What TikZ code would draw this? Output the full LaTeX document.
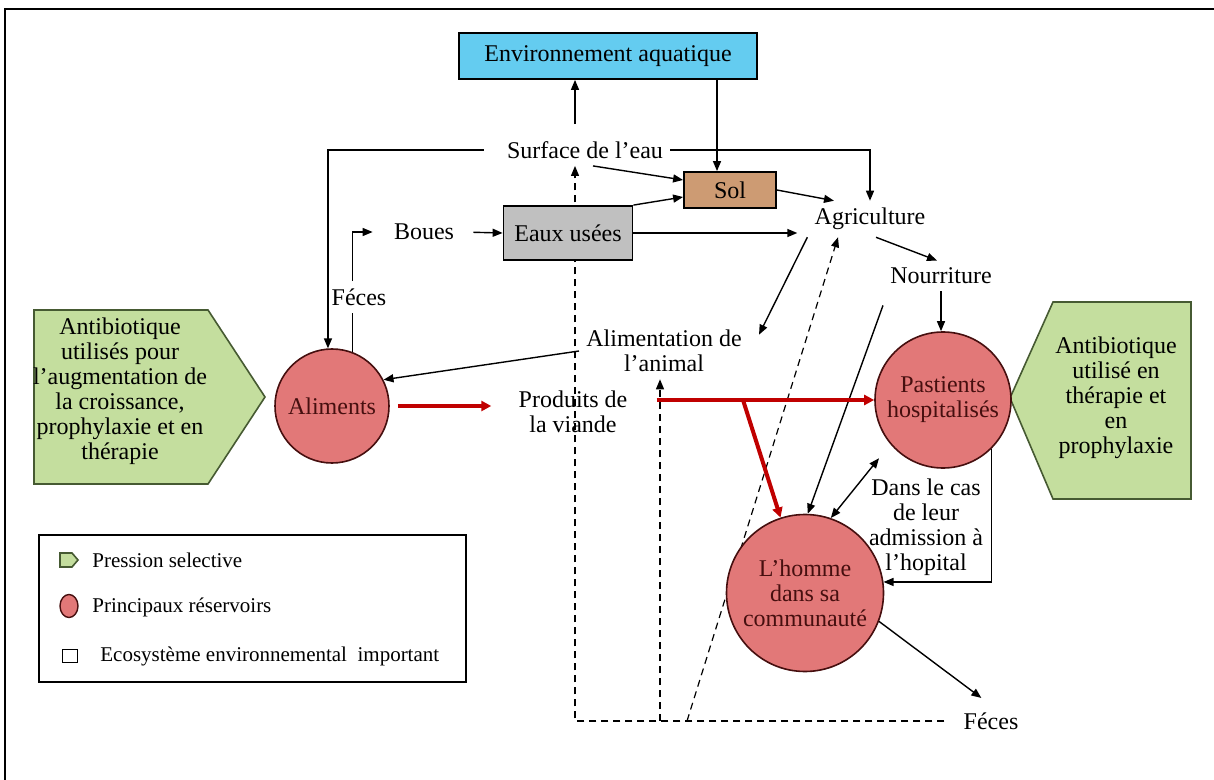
\documentclass[tikz,border=0pt]{standalone}
\usepackage{fontspec}
\setmainfont{Liberation Serif}
\usepackage{tikz}
\usetikzlibrary{arrows.meta,calc,backgrounds,shapes.geometric}
\definecolor{bleuEau}{RGB}{100,204,240}
\definecolor{brunSol}{RGB}{205,155,115}
\definecolor{grisUse}{RGB}{192,192,192}
\definecolor{rougeRes}{RGB}{226,120,120}
\definecolor{texteRes}{RGB}{70,15,15}
\definecolor{vertPres}{RGB}{196,222,158}
\definecolor{vertBord}{RGB}{70,90,50}
\definecolor{rougeFl}{RGB}{192,0,0}

\begin{document}
\begin{tikzpicture}[x=0.5pt,y=-0.5pt,line width=0.7pt,
    font=\fontsize{12}{12.5}\selectfont,
    >={Triangle[length=5pt,width=4pt]},
    boite/.style={draw,rectangle,line width=0.9pt},
    reserv/.style={draw=texteRes,circle,fill=rougeRes,text=texteRes,align=center,inner sep=1pt,line width=0.8pt},
    pression/.style={fill=vertPres,draw=vertBord,line width=0.8pt},
    pointille/.style={dash pattern=on 3.5pt off 2.5pt,line width=0.6pt},
    fleche/.style={draw=rougeFl,line width=2pt,-{Triangle[length=5pt,width=5pt]}},
    legende/.style={anchor=west,font=\fontsize{10.5}{12}\selectfont}]
      \useasboundingbox (0,0) rectangle (1214,780);
      \draw[line width=1pt] (5,780) -- (5,9) -- (1214,9);

      \filldraw[pression] (34,310) -- (208,310) -- (265,397) -- (208,484) -- (34,484) -- cycle;
      \node[align=center] (AbG) at (120,391) {Antibiotique\\utilisés pour\\l’augmentation de\\la croissance,\\prophylaxie et en\\thérapie};
      \filldraw[pression] (1010,398) -- (1053,302) -- (1191,302) -- (1191,499) -- (1053,499) -- cycle;
      \node[align=center] (AbD) at (1116,398) {Antibiotique\\utilisé en\\thérapie et\\en\\prophylaxie};

      \node[boite,fill=bleuEau,minimum width=149pt,minimum height=23pt] (Env) at (608,56) {Environnement aquatique};
      \node[boite,fill=brunSol,minimum width=46pt,minimum height=18pt] (Sol) at (730,190) {Sol};
      \node[boite,fill=grisUse,minimum width=64.5pt,minimum height=27pt] (Eaux) at (568,233) {Eaux usées};

      \node (Surf) at (585,150) {Surface de l’eau};
      \node (Boues) at (424,232) {Boues};
      \node (FecA) at (359,297) {Féces};
      \node (Agri) at (870,219) {Agriculture};
      \node (Nour) at (941,276) {Nourriture};
      \node[align=center] (AlimA) at (664,351) {Alimentation de\\l’animal};
      \node[align=center] (Prod) at (573,412) {Produits de\\la viande};
      \node[align=center] (Dans) at (926,527) {Dans le cas\\de leur\\admission à\\l’hopital};
      \node (FecH) at (991,721) {Féces};

      \node[reserv,minimum size=57pt] (Alim) at (332,406) {Aliments};
      \node[reserv,minimum size=68pt] (Past) at (943,400) {Pastients\\hospitalisés};
      \node[reserv,minimum size=78.5pt] (Homme) at (805,593) {L’homme\\dans sa\\communauté};

      \draw[->,shorten <=5pt] ([xshift=-5pt]Surf.north) -- ([xshift=-5pt]Surf.north |- Env.south);
      \draw[->] ([xshift=-6.5pt]Sol.north |- Env.south) -- ([xshift=-6.5pt]Sol.north);
      \draw[->] ([xshift=4pt]Surf.south) -- ([yshift=5pt]Sol.west);
      \draw[->] (Eaux.north east) -- ([yshift=-3.5pt]Sol.west);
      \draw[->] (Surf.east) -| (Agri.north);
      \draw[->,shorten <=8pt] (Surf.west) -| (Alim.94);
      \draw[->] (Sol.east) -- ([xshift=-18pt]Agri.north);
      \draw[->,shorten >=5pt] (Eaux.east) -- (Eaux.east -| Agri.west);
      \draw[->] ([xshift=3pt]Agri.south) -- ([xshift=-2pt]Nour.north);
      \draw[->] (Agri.south west) -- ([shift={(5pt,-6pt)}]AlimA.north east);
      \draw[->] (Nour.south) -- (Nour.south |- Past.north);
      \draw[->] ([yshift=-7pt]Nour.south west) -- (Homme.88);
      \draw[->] (AlimA.west) -- (Alim.27);
      \draw (Alim.69) -- (Alim.69 |- FecA.south);
      \draw[->,shorten >=7pt] (Alim.69 |- FecA.north) |- (Boues.west);
      \draw[->,shorten <=6pt] (Boues.east) -- (Eaux.west);
      \draw[->] (Past.-45) |- (Homme.8);
      \draw[<->,shorten >=9pt] (Homme.71) -- (Past.220);
      \draw[->,shorten >=6pt] (Homme.-21) -- (FecH.north);

      \draw[fleche,shorten <=4pt,shorten >=10pt] (Alim.east) -- (Alim.east -| Prod.west);
      \draw[fleche,shorten <=11pt] (Prod.east |- Past.west) -- (Past.west);
      \coordinate (rB) at (743,400);
      \draw[fleche] (rB) -- (Homme.108);

      \begin{scope}[on background layer]
        \coordinate (dG) at (575,721);
        \coordinate (dM) at (660,721);
        \coordinate (dD) at (687,721);
        \draw[pointille,->,shorten <=6pt] (FecH.west) -- (dG) -- (dG |- Surf.south);
        \draw[pointille,->] (dM) -- (dM |- AlimA.south);
        \draw[pointille,->] (dD) -- ([xshift=-16pt]Agri.south);
      \end{scope}

      \draw[line width=0.8pt] (39,535) rectangle (466,682);
      \filldraw[pression] (60,553) -- (72,553) -- (78,560) -- (72,567) -- (60,567) -- cycle;
      \node[draw=texteRes,ellipse,fill=rougeRes,minimum width=9pt,minimum height=11.5pt,inner sep=0pt] (legR) at (69,606) {};
      \node[draw,minimum width=7.5pt,minimum height=6.5pt,inner sep=0pt] (legE) at (70,656) {};
      \node[legende] (legPt) at (85,560) {Pression selective};
      \node[legende] (legRt) at (85,607) {Principaux réservoirs};
      \node[legende] (legEt) at (93,656) {Ecosystème environnemental\ \ important};
\end{tikzpicture}
\end{document}
